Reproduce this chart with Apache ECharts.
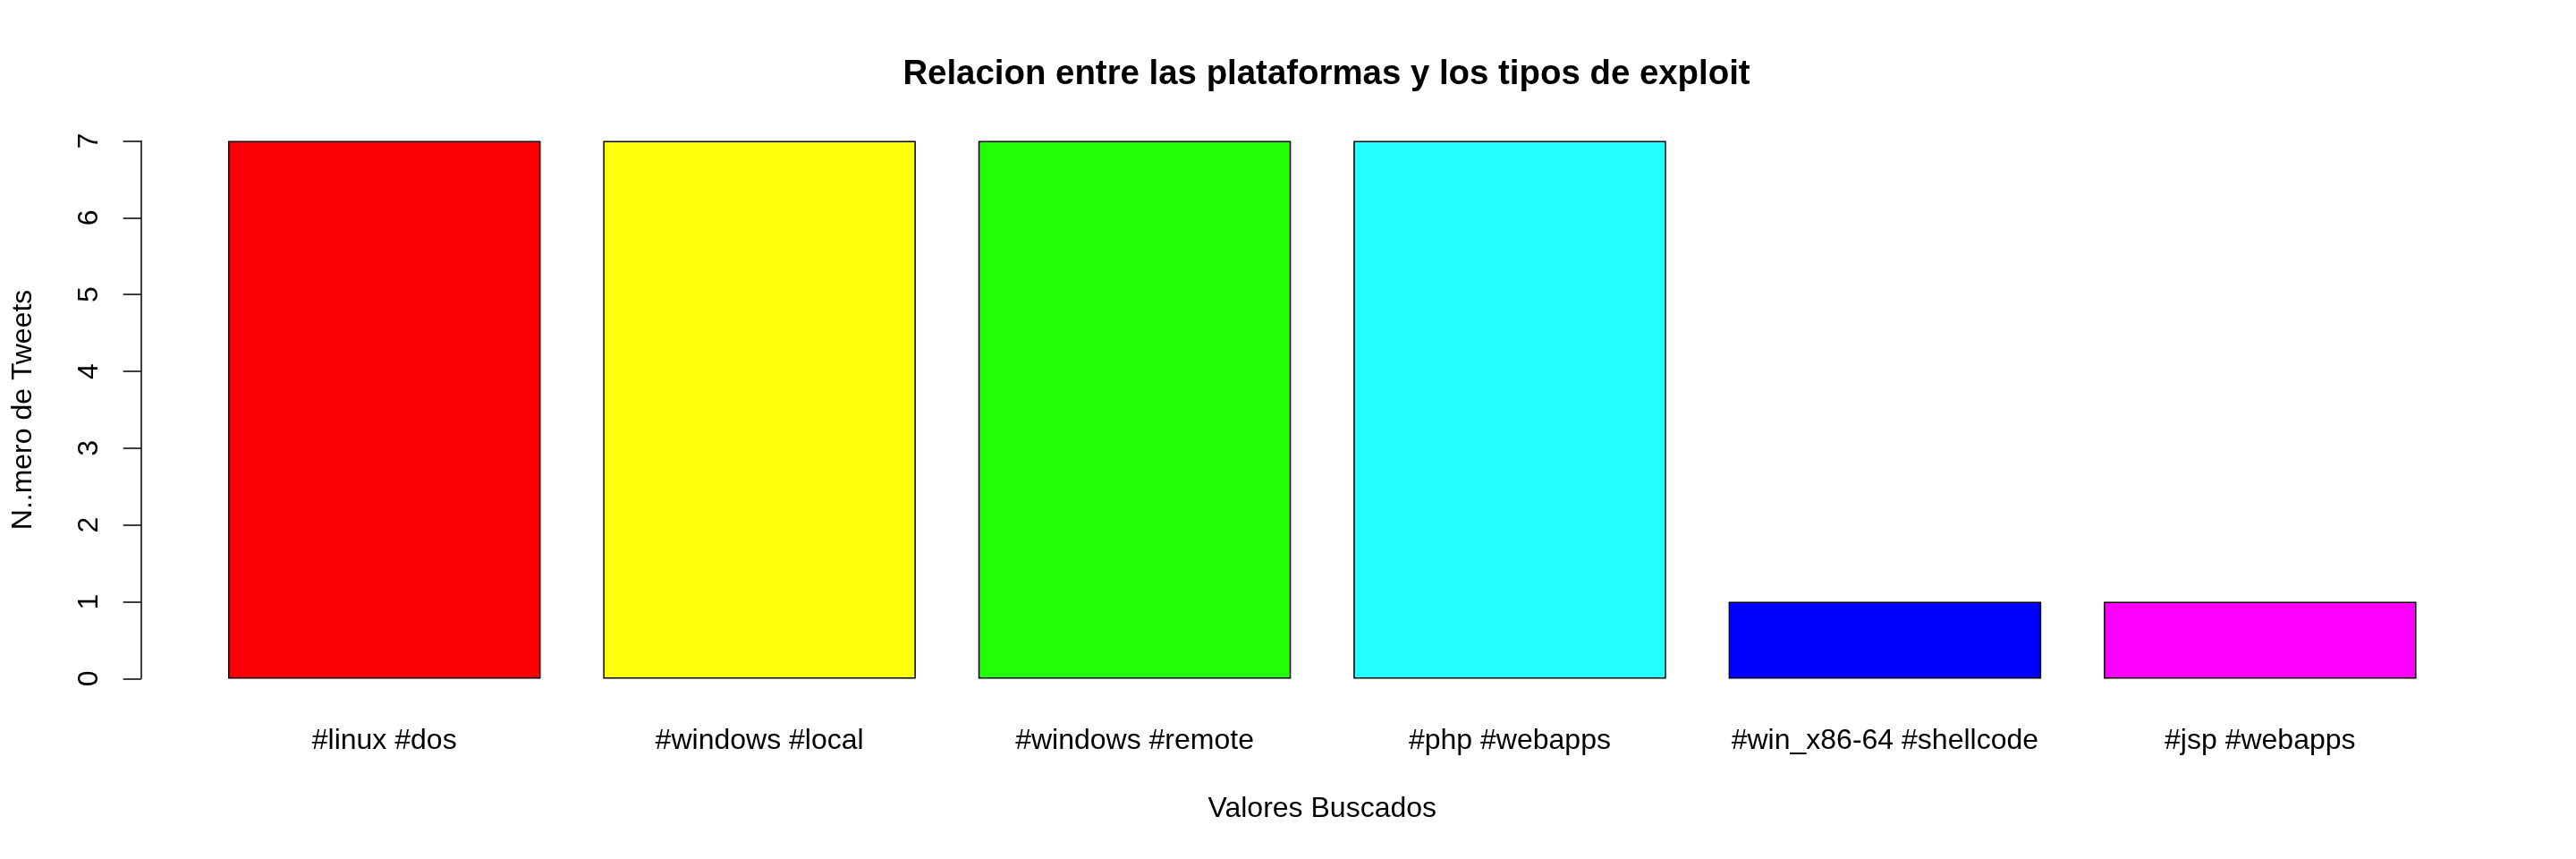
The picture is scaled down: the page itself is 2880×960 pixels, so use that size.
<!DOCTYPE html>
<html>
<head>
<meta charset="utf-8">
<script src="https://cdn.jsdelivr.net/npm/echarts@6/dist/echarts.min.js"></script>
<style>
html,body{margin:0;padding:0;background:#fff;}
#chart{width:2880px;height:960px;}
</style>
</head>
<body>
<div id="chart"></div>
<script>
const categories = ['#linux #dos', '#windows #local', '#windows #remote', '#php #webapps', '#win_x86-64 #shellcode', '#jsp #webapps'];
const values = [7, 7, 7, 7, 1, 1];
const colors = ['#FC0007', '#FFFF0A', '#21FF06', '#21FFFF', '#0000FF', '#FF00FF'];
const yTicks = [0, 1, 2, 3, 4, 5, 6, 7];

const FONT = "'Liberation Sans', Arial, Helvetica, sans-serif";
const chart = echarts.init(document.getElementById('chart'), null, {renderer: 'canvas'});

chart.setOption({
  backgroundColor: '#ffffff',
  animation: false,
  title: {
    text: 'Relacion entre las plataformas y los tipos de exploit',
    left: 1478,
    top: 59,
    textAlign: 'center',
    textStyle: {fontFamily: FONT, fontSize: 38.4, fontWeight: 'bold', color: '#000', lineHeight: 38.4}
  },
  grid: {left: 220, right: 143.5, top: 157.5, bottom: 201.6, containLabel: false},
  xAxis: {
    type: 'category',
    data: categories,
    name: 'Valores Buscados',
    nameLocation: 'middle',
    nameGap: 130,
    nameTextStyle: {fontFamily: FONT, fontSize: 32, color: '#000', lineHeight: 32},
    axisLine: {show: false},
    axisTick: {show: false},
    axisLabel: {fontFamily: FONT, fontSize: 32, color: '#000', margin: 54, lineHeight: 32, interval: 0},
    splitLine: {show: false}
  },
  yAxis: {
    type: 'value',
    min: yTicks[0],
    max: yTicks[yTicks.length - 1],
    interval: 1,
    offset: 62.3,
    name: 'N..mero de Tweets',
    nameLocation: 'middle',
    nameGap: 116,
    nameTextStyle: {fontFamily: FONT, fontSize: 32, color: '#000', lineHeight: 32},
    axisLine: {show: true, lineStyle: {color: '#000', width: 1.5}},
    axisTick: {show: true, length: 20, lineStyle: {color: '#000', width: 1.5}},
    axisLabel: {fontFamily: FONT, fontSize: 32, color: '#000', rotate: 90, margin: 42, lineHeight: 32},
    splitLine: {show: false}
  },
  series: [{
    type: 'bar',
    barCategoryGap: '16.667%',
    data: values.map((v, i) => ({value: v, itemStyle: {color: colors[i]}})),
    itemStyle: {borderColor: '#000', borderWidth: 1.5},
    label: {show: false}
  }]
});
</script>
</body>
</html>
